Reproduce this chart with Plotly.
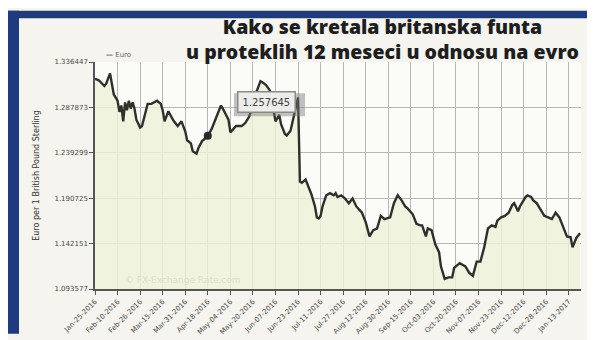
import pandas as pd
import plotly.graph_objects as go

# --- data (EUR per 1 GBP) ---
dates = [
    "2016-01-25", "2016-01-27", "2016-02-01", "2016-02-02", "2016-02-04", "2016-02-05",
    "2016-02-08", "2016-02-10", "2016-02-11", "2016-02-12", "2016-02-15", "2016-02-16",
    "2016-02-17", "2016-02-18", "2016-02-19", "2016-02-22", "2016-02-23", "2016-02-24",
    "2016-02-26", "2016-02-29", "2016-03-02", "2016-03-03", "2016-03-07", "2016-03-10",
    "2016-03-14", "2016-03-15", "2016-03-16", "2016-03-17", "2016-03-18", "2016-03-22",
    "2016-03-23", "2016-03-25", "2016-03-29", "2016-03-31", "2016-04-01", "2016-04-05",
    "2016-04-06", "2016-04-08", "2016-04-11", "2016-04-13", "2016-04-14", "2016-04-18",
    "2016-04-20", "2016-04-22", "2016-04-27", "2016-04-28", "2016-05-03", "2016-05-04",
    "2016-05-06", "2016-05-09", "2016-05-12", "2016-05-16", "2016-05-18", "2016-05-20",
    "2016-05-24", "2016-05-26", "2016-05-27", "2016-05-31", "2016-06-02", "2016-06-03",
    "2016-06-06", "2016-06-07", "2016-06-09", "2016-06-10", "2016-06-14", "2016-06-15",
    "2016-06-17", "2016-06-20", "2016-06-21", "2016-06-22", "2016-06-23", "2016-06-24",
    "2016-06-27", "2016-06-29", "2016-06-30", "2016-07-04", "2016-07-06", "2016-07-07",
    "2016-07-08", "2016-07-11", "2016-07-12", "2016-07-14", "2016-07-18", "2016-07-20",
    "2016-07-21", "2016-07-22", "2016-07-26", "2016-07-28", "2016-08-01", "2016-08-03",
    "2016-08-05", "2016-08-10", "2016-08-12", "2016-08-16", "2016-08-18", "2016-08-22",
    "2016-08-24", "2016-08-26", "2016-08-31", "2016-09-02", "2016-09-06", "2016-09-08",
    "2016-09-12", "2016-09-13", "2016-09-16", "2016-09-20", "2016-09-22", "2016-09-23",
    "2016-09-27", "2016-09-28", "2016-09-30", "2016-10-04", "2016-10-06", "2016-10-07",
    "2016-10-12", "2016-10-14", "2016-10-18", "2016-10-19", "2016-10-24", "2016-10-27",
    "2016-10-31", "2016-11-02", "2016-11-04", "2016-11-08", "2016-11-10", "2016-11-14",
    "2016-11-16", "2016-11-18", "2016-11-21", "2016-11-23", "2016-11-28", "2016-11-30",
    "2016-12-02", "2016-12-05", "2016-12-07", "2016-12-08", "2016-12-13", "2016-12-14",
    "2016-12-16", "2016-12-19", "2016-12-21", "2016-12-23", "2016-12-27", "2016-12-29",
    "2017-01-02", "2017-01-04", "2017-01-06", "2017-01-10", "2017-01-12", "2017-01-16",
    "2017-01-17", "2017-01-19", "2017-01-23",
]
euro = [
    1.3185, 1.3169, 1.3108, 1.3135, 1.3243, 1.3135,
    1.3017, 1.2950, 1.2831, 1.2899, 1.2730, 1.2932,
    1.2848, 1.2950, 1.2866, 1.2932, 1.2866, 1.2747,
    1.2663, 1.2679, 1.2831, 1.2916, 1.2916, 1.2950,
    1.2916, 1.2848, 1.2730, 1.2781, 1.2838, 1.2764,
    1.2730, 1.2679, 1.2730, 1.2623, 1.2527, 1.2494,
    1.2410, 1.2383, 1.2444, 1.2521, 1.2535, 1.257645,
    1.2646, 1.2747, 1.2899, 1.2866, 1.2747, 1.2612,
    1.2663, 1.2679, 1.2679, 1.2714, 1.2781, 1.2899,
    1.3051, 1.3159, 1.3148, 1.3118, 1.3061, 1.2950,
    1.2830, 1.2730, 1.2798, 1.2697, 1.2595, 1.2578,
    1.2629, 1.2714, 1.2798, 1.2880, 1.2985, 1.2085,
    1.2072, 1.2107, 1.2056, 1.1955, 1.1819, 1.1701,
    1.1690, 1.1720, 1.1819, 1.1938, 1.1961, 1.1938,
    1.1961, 1.1920, 1.1938, 1.1904, 1.1853, 1.1904,
    1.1819, 1.1752, 1.1651, 1.1499, 1.1566, 1.1583,
    1.1718, 1.1684, 1.1702, 1.1853, 1.1938, 1.1887,
    1.1819, 1.1803, 1.1735, 1.1634, 1.1617, 1.1617,
    1.1499, 1.1583, 1.1566, 1.1414, 1.1330, 1.1178,
    1.1044, 1.1060, 1.1060, 1.1161, 1.1212, 1.1178,
    1.1110, 1.1077, 1.1229, 1.1229, 1.1381, 1.1583,
    1.1617, 1.1600, 1.1668, 1.1702, 1.1718, 1.1752,
    1.1836, 1.1853, 1.1768, 1.1819, 1.1920, 1.1938,
    1.1920, 1.1887, 1.1853, 1.1786, 1.1718, 1.1702,
    1.1684, 1.1752, 1.1702, 1.1600, 1.1499, 1.1489,
    1.1381, 1.1482, 1.1533,
]

highlight_date = "2016-04-18"
highlight_value = 1.257645

title_lines = ["Kako se kretala britanska funta", "u proteklih 12 meseci u odnosu na evro"]
y_ticks = [1.093577, 1.142151, 1.190725, 1.239299, 1.287873, 1.336447]
x_tick_labels = [
    "Jan-25-2016", "Feb-10-2016", "Feb-26-2016", "Mar-15-2016", "Mar-31-2016",
    "Apr-18-2016", "May-04-2016", "May-20-2016", "Jun-07-2016", "Jun-23-2016",
    "Jul-11-2016", "Jul-27-2016", "Aug-12-2016", "Aug-30-2016", "Sep-15-2016",
    "Oct-03-2016", "Oct-20-2016", "Nov-07-2016", "Nov-23-2016", "Dec-12-2016",
    "Dec-28-2016", "Jan-13-2017",
]
x_tick_dates = pd.to_datetime(x_tick_labels, format="%b-%d-%Y")
missing_days = ["2016-10-10", "2016-11-24"]

# --- layout in pixels ---
W, H = 595, 340
L, R, T, B = 87, 22, 54, 47
pw, ph = W - L - R, H - T - B

def px(x):
    return (x - L) / pw

def py(y):
    return (H - B - y) / ph

NAVY = "#1f3a80"
TICK_FONT = dict(family="DejaVu Sans", size=7, color="#4a4a4a")

fig = go.Figure()

fig.add_trace(go.Scatter(
    x=dates, y=euro, mode="lines", name="Euro",
    line=dict(color="#2f302c", width=2.4),
    fill="tozeroy", fillcolor="rgba(238,242,216,0.8)",
    showlegend=False,
))
fig.add_trace(go.Scatter(
    x=[highlight_date], y=[highlight_value], mode="markers",
    marker=dict(color="#2a2a2a", size=8), showlegend=False,
))

shapes = [
    # photo frame (blue border of the printed page)
    dict(type="rect", xref="paper", yref="paper", x0=px(0), x1=px(11), y0=py(H), y1=py(0),
         fillcolor=NAVY, line=dict(width=0), layer="above"),
    dict(type="rect", xref="paper", yref="paper", x0=px(0), x1=px(W), y0=py(8), y1=py(0),
         fillcolor=NAVY, line=dict(width=0), layer="above"),
    # tooltip shadow
    dict(type="rect", xref="paper", yref="paper", x0=px(226), x1=px(297), y0=py(111), y1=py(87),
         fillcolor="rgba(120,120,120,0.45)", line=dict(width=0), layer="above"),
]

annotations = [
    dict(text="<br>".join(title_lines), xref="paper", yref="paper", x=px(374), y=py(30),
         xanchor="center", yanchor="middle", showarrow=False, align="center",
         font=dict(family="Open Sans", size=19.5, color="#1e1e1e", weight=800)),
    dict(text="<b>—</b> Euro", xref="paper", yref="paper", x=px(96), y=py(47),
         xanchor="left", yanchor="middle", showarrow=False,
         font=dict(family="DejaVu Sans", size=7, color="#666")),
    dict(text="© FX-Exchange Rate.com", xref="paper", yref="paper", x=px(175), y=py(284),
         xanchor="center", yanchor="middle", showarrow=False,
         font=dict(family="DejaVu Sans", size=9, color="#dcdccb")),
    dict(text="1.257645", xref="paper", yref="paper", x=px(258), y=py(96),
         xanchor="center", yanchor="middle", showarrow=False,
         bgcolor="#ececea", bordercolor="#8a8a86", borderwidth=1.5, borderpad=4,
         font=dict(family="DejaVu Sans", size=10, color="#444")),
]

fig.update_layout(
    width=W, height=H,
    margin=dict(l=L, r=R, t=T, b=B),
    paper_bgcolor="#f5f4ee",
    plot_bgcolor="#fbfbf7",
    shapes=shapes,
    annotations=annotations,
    xaxis=dict(
        type="date",
        range=["2016-01-25", "2017-01-23 12:00"],
        rangebreaks=[dict(bounds=["sat", "mon"]), dict(values=missing_days)],
        tickmode="array", tickvals=x_tick_dates, ticktext=x_tick_labels,
        tickangle=-45, tickfont=TICK_FONT,
        ticks="outside", ticklen=4, tickcolor="#555",
        showgrid=True, gridcolor="#b9b9b4", gridwidth=1,
        showline=True, linecolor="#555", linewidth=1.5,
        zeroline=False,
    ),
    yaxis=dict(
        range=[y_ticks[0], y_ticks[-1]],
        tickmode="array", tickvals=y_ticks, ticktext=[f"{v:.6f}" for v in y_ticks],
        tickfont=TICK_FONT,
        ticks="outside", ticklen=4, tickcolor="#555",
        showgrid=True, gridcolor="#b9b9b4", gridwidth=1,
        showline=True, linecolor="#555", linewidth=1.5,
        zeroline=False,
        title=dict(text="Euro per 1 British Pound Sterling",
                   font=dict(family="DejaVu Sans", size=8, color="#333"), standoff=14),
    ),
)

fig.write_html("out.html")
